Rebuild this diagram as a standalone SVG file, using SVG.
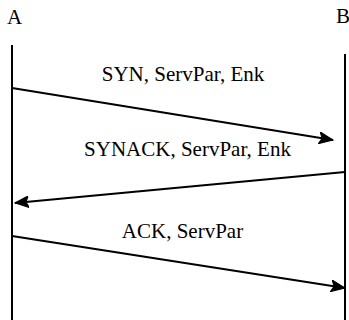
<svg xmlns="http://www.w3.org/2000/svg" width="349" height="320" viewBox="0 0 349 320">
<style>
.t{font-family:"Liberation Serif","Times New Roman",serif;font-size:21px;fill:#000}
.life{stroke:#000;stroke-width:2;fill:none}
.msg{stroke:#000;stroke-width:2;fill:none;marker-end:url(#ah)}
</style>
<defs>
<marker id="ah" markerUnits="userSpaceOnUse" markerWidth="16" markerHeight="12" refX="14" refY="6" orient="auto">
<path d="M0,0 L14,6 L0,12 L3,6 Z" fill="#000" stroke="#000" stroke-width="1"/>
</marker>
</defs>
<rect width="349" height="320" fill="#fff"/>
<g id="A">
<text class="t" x="7" y="24">A</text>
<line class="life" x1="12" y1="45" x2="12" y2="320"/>
</g>
<g id="B">
<text class="t" x="336" y="23">B</text>
<line class="life" x1="345" y1="54" x2="345" y2="320"/>
</g>
<g id="connectors">
<line class="msg" x1="12" y1="88" x2="333" y2="140"/>
<line class="msg" x1="345" y1="172" x2="15" y2="203"/>
<line class="msg" x1="12" y1="236" x2="345" y2="288"/>
</g>
<g id="labels">
<text class="t" x="183" y="81" text-anchor="middle">SYN, ServPar, Enk</text>
<text class="t" x="187.5" y="156" text-anchor="middle">SYNACK, ServPar, Enk</text>
<text class="t" x="182.5" y="238" text-anchor="middle">ACK, ServPar</text>
</g>
</svg>
